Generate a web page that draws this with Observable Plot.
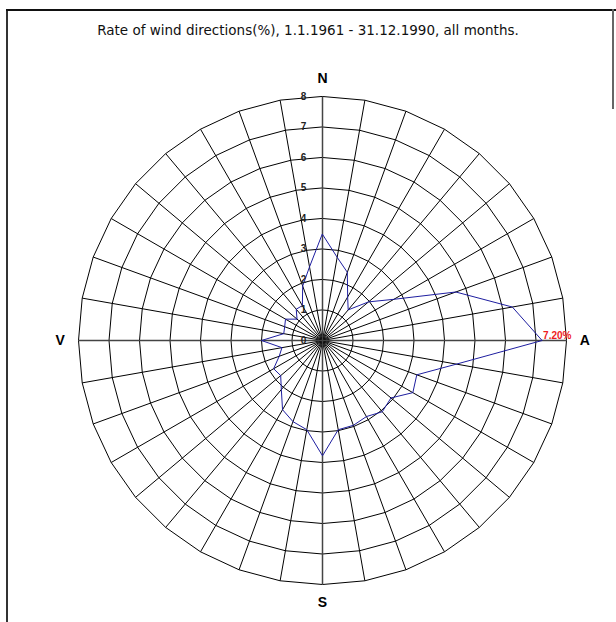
<!DOCTYPE html>
<html>
<head>
<meta charset="utf-8">
<script src="https://cdn.jsdelivr.net/npm/d3@7"></script>
<script src="https://cdn.jsdelivr.net/npm/@observablehq/plot@0.6"></script>
<style>
  html, body { margin: 0; padding: 0; background: #fff; }
  #wrap { position: relative; width: 616px; height: 622px; overflow: hidden; font-family: "Liberation Sans", Arial, sans-serif; }
  #title { height: 60px; line-height: 60px; text-align: center; font-size: 13.5px; color: #111; font-family: "DejaVu Sans", Verdana, sans-serif; }
  .bl { position: absolute; left: 6px; top: 9px; width: 2px; height: 613px; background: #333; }
  .bt { position: absolute; left: 6px; top: 9px; width: 610px; height: 1.5px; background: #111; }
  .br { position: absolute; left: 612px; top: 9px; width: 1.5px; height: 100px; background: #666; }
  svg { display: block; }
</style>
</head>
<body>
<div id="wrap">
  <div class="bl"></div><div class="bt"></div><div class="br"></div>
  <div id="title">Rate of wind directions(%), 1.1.1961 - 31.12.1990, all months.</div>
  <div id="chart"></div>
</div>
<script>
// Wind direction (degrees clockwise from north) and rate (%)
const directions = [0, 10, 20, 30, 40, 50, 60, 70, 80, 90, 100, 110, 120, 130, 140, 150, 160, 170,
                    180, 190, 200, 210, 220, 230, 240, 250, 260, 270, 280, 290, 300, 310, 320, 330, 340, 350];
const rates = [3.48, 2.77, 2.38, 1.65, 1.31, 1.97, 2.70, 4.65, 6.32, 7.20, 4.46, 3.29, 3.42, 2.93, 3.05, 2.88, 2.96, 2.97,
               3.78, 2.97, 2.83, 2.62, 2.10, 1.79, 1.85, 1.51, 1.35, 2.00, 1.29, 1.32, 1.40, 1.09, 1.34, 1.32, 1.90, 2.45];
const ringLevels = [1, 2, 3, 4, 5, 6, 7, 8];
const tickLabels = ["0", "1", "2", "3", "4", "5", "6", "7", "8"];
const compassLabels = ["N", "A", "S", "V"];
const compassAngles = [0, 90, 180, 270];
const maxRadius = 8;

const rad = d => d * Math.PI / 180;
const px = (r, a) => r * Math.sin(rad(a));
const py = (r, a) => r * Math.cos(rad(a));

const ringPts = ringLevels.flatMap(k => directions.map(a => ({ring: k, x: px(k, a), y: py(k, a)})));
const spokes = directions.filter(a => a % 90 !== 0).map(a => ({x1: 0, y1: 0, x2: px(maxRadius, a), y2: py(maxRadius, a)}));
const axes = [0, 90].map(a => ({x1: px(-maxRadius, a), y1: py(-maxRadius, a), x2: px(maxRadius, a), y2: py(maxRadius, a)}));
const seriesPts = directions.map((a, i) => ({dir: a, rate: rates[i], x: px(rates[i], a), y: py(rates[i], a)}));
const maxPt = seriesPts.reduce((m, d) => d.rate > m.rate ? d : m, seriesPts[0]);
const ticks = tickLabels.map(t => ({x: 0, y: +t, text: t}));
const compass = compassLabels.map((t, i) => ({text: t, x: px(8.6, compassAngles[i]), y: py(8.6, compassAngles[i])}));

const chart = Plot.plot({
  width: 616,
  height: 562,
  marginLeft: 78,
  marginRight: 50,
  marginTop: 36,
  marginBottom: 38,
  x: {domain: [-maxRadius, maxRadius], axis: null},
  y: {domain: [-maxRadius, maxRadius], axis: null},
  style: {fontFamily: "'Liberation Sans', Arial, sans-serif", background: "transparent", overflow: "visible"},
  marks: [
    Plot.line(ringPts, {x: "x", y: "y", z: "ring", curve: "linear-closed", stroke: "#000", strokeWidth: 1}),
    Plot.link(spokes, {x1: "x1", y1: "y1", x2: "x2", y2: "y2", stroke: "#000", strokeWidth: 1}),
    Plot.link(axes, {x1: "x1", y1: "y1", x2: "x2", y2: "y2", stroke: "#444", strokeWidth: 1.5}),
    Plot.line(seriesPts, {x: "x", y: "y", curve: "linear-closed", stroke: "#1e1ea0", strokeWidth: 1}),
    Plot.text(ticks, {x: "x", y: "y", text: "text", dx: -19, fontSize: 10, fontWeight: "bold", fill: "#222"}),
    Plot.text([maxPt], {x: "x", y: "y", text: d => d.rate.toFixed(2) + "%", textAnchor: "start", dx: 1, dy: -5, fontSize: 10, fontWeight: "bold", fill: "#ee1c1c"}),
    Plot.text(compass, {x: "x", y: "y", text: "text", fontSize: 14, fontWeight: "bold", fill: "#000"})
  ]
});
document.getElementById("chart").appendChild(chart);
</script>
</body>
</html>
